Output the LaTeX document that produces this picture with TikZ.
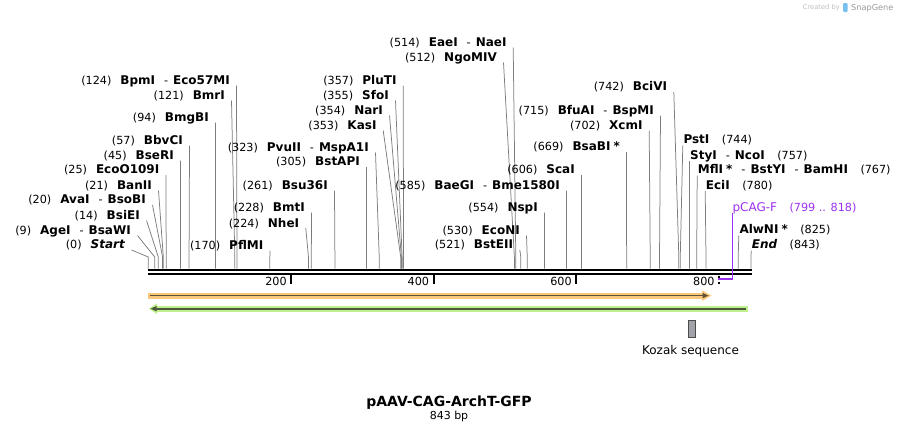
\documentclass[tikz,border=0pt]{standalone}
\usepackage{fontspec}
\setmainfont{DejaVu Sans}
\usepackage{tikz}
\usetikzlibrary{calc}
\usetikzlibrary{positioning}

\definecolor{leadgray}{RGB}{125,125,125}
\definecolor{cagorange}{RGB}{250,200,122}
\definecolor{cagline}{RGB}{95,80,55}
\definecolor{gfpgreen}{RGB}{192,240,140}
\definecolor{gfpline}{RGB}{75,90,60}
\definecolor{primpurple}{RGB}{155,48,240}
\definecolor{kozakgray}{RGB}{160,164,170}
\definecolor{logoblue}{RGB}{120,192,238}

\newcommand{\bpnum}[1]{{\fontsize{11.2}{13}\selectfont(#1)}}
\newcommand{\enz}[1]{{\fontsize{12}{14}\selectfont\bfseries #1}}
\newcommand{\enzsep}{\hspace{9pt}{\fontsize{11.2}{13}\selectfont-}\hspace{5pt}}
\newcommand{\lft}[2]{\bpnum{#1}\hspace{9pt}#2}
\newcommand{\rgt}[2]{#2\hspace{12.5pt}\bpnum{#1}}

\begin{document}
\begin{tikzpicture}[x=1pt,y=-1pt,
    leader/.style={draw=leadgray,line width=0.75pt},
    lab/.style={inner sep=0pt,anchor=base east},
    rlab/.style={inner sep=0pt,anchor=base west},
    ticklab/.style={inner sep=0pt,anchor=base east,font=\fontsize{11.2}{13}\selectfont}]

  \useasboundingbox (0,0) rectangle (900,432);

  % backbone
  \draw[line width=2.4pt] (148.3,269.9) -- (751.5,269.9);
  \draw[line width=2.4pt] (148.3,274) -- (751.5,274);

  \foreach \t/\tx in {200/291.2,400/433.6,600/576.2}{
    \draw[line width=2pt] (\tx,275) -- (\tx,283.5);
    \node[ticklab] (tick\t) at (\tx-4.3,285.8) {\t};
  }
  \draw[line width=2pt,dash pattern=on 2pt off 4pt] (719,275.5) -- (719,283.5);
  \node[ticklab] (tick800) at (714.7,285.8) {800};

  % features
  \fill[cagorange] (148.3,292.6) rectangle (703,298.6);
  \fill[cagorange] (702,290.3) -- (711.5,295.6) -- (702,300.9) -- cycle;
  \draw[cagline,line width=1.6pt] (149.5,295.6) -- (703.5,295.6);
  \fill[cagline] (702.5,292.9) -- (708.5,295.6) -- (702.5,298.3) -- cycle;

  \fill[gfpgreen] (156,305.7) rectangle (748,311.7);
  \fill[gfpgreen] (157,303.4) -- (148.8,308.7) -- (157,314) -- cycle;
  \draw[gfpline,line width=1.6pt] (155,308.7) -- (745.8,308.7);
  \fill[gfpline] (156.5,306) -- (150.5,308.7) -- (156.5,311.4) -- cycle;

  \node[draw=black!70,fill=kozakgray,line width=0.8pt,inner sep=0pt,
        minimum width=7.4pt,minimum height=16.6pt] (kozak) at (692,329) {};
  \node[anchor=base,inner sep=0pt,font=\fontsize{12}{14}\selectfont] (kozaklab)
        at (690.5,354.2) {Kozak sequence};

  % cut sites, labels left of the line
  \foreach \bp/\ex/\cy/\lbl [count=\i] in {
      124/230/80/{\enz{BpmI}\enzsep\enz{Eco57MI}},
      121/225/95/{\enz{BmrI}},
      94/209/117/{\enz{BmgBI}},
      57/183/140/{\enz{BbvCI}},
      45/174/155/{\enz{BseRI}},
      25/159.5/169.5/{\enz{EcoO109I}},
      21/152/185/{\enz{BanII}},
      20/146/199.5/{\enz{AvaI}\enzsep\enz{BsoBI}},
      14/140/215/{\enz{BsiEI}},
      9/131/230/{\enz{AgeI}\enzsep\enz{BsaWI}},
      0/125/244.5/{\enz{\itshape Start}},
      170/263.5/245/{\enz{PflMI}},
      224/299.3/222.7/{\enz{NheI}},
      228/305/207/{\enz{BmtI}},
      261/328/185/{\enz{Bsu36I}},
      305/360/161.5/{\enz{BstAPI}},
      323/369/147/{\enz{PvuII}\enzsep\enz{MspA1I}},
      353/376.7/125/{\enz{KasI}},
      354/383/110/{\enz{NarI}},
      355/389/95/{\enz{SfoI}},
      357/396.7/80/{\enz{PluTI}},
      514/506.7/42/{\enz{EaeI}\enzsep\enz{NaeI}},
      512/497/57/{\enz{NgoMIV}},
      585/560/185/{\enz{BaeGI}\enzsep\enz{Bme1580I}},
      606/575/169.5/{\enz{ScaI}},
      554/538/207/{\enz{NspI}},
      530/520/230/{\enz{EcoNI}},
      521/513.3/244.5/{\enz{BstEII}},
      742/667.3/86.5/{\enz{BciVI}},
      715/654/110/{\enz{BfuAI}\enzsep\enz{BspMI}},
      702/642.7/125/{\enz{XcmI}},
      669/620/146.5/{\enz{BsaBI\hspace{3pt}*}}}{
    \coordinate (cut\i) at ({148.3+0.715*\bp},268.5);
    \node[lab] (lab\i) at (\ex,{\cy+4.4}) {\lft{\bp}{\lbl}};
    \draw[leader] ([shift={(6.5,1.1)}]lab\i.base east) -- ($(cut\i)+(0,-11.5)$) -- (cut\i);
  }

  % cut sites, labels right of the line
  \foreach \bp/\wx/\cy/\lbl [count=\i] in {
      744/683.3/139.5/{\enz{PstI}},
      757/690/155/{\enz{StyI}\enzsep\enz{NcoI}},
      767/697.7/169.5/{\enz{MflI\hspace{3pt}*}\enzsep\enz{BstYI}\enzsep\enz{BamHI}},
      780/705.7/185/{\enz{EciI}},
      825/739.3/229.5/{\enz{AlwNI\hspace{3pt}*}},
      843/751.7/244.5/{\enz{\itshape End}}}{
    \coordinate (rcut\i) at ({148.3+0.715*\bp},268.5);
    \node[rlab] (rlab\i) at (\wx,{\cy+4.4}) {\rgt{\bp}{\lbl}};
    \draw[leader] ([shift={(-0.5,1.6)}]rlab\i.base west) -- ($(rcut\i)+(0,-11.5)$) -- (rcut\i);
  }

  % primer
  \node[rlab,text=primpurple] (pcagf) at (732.3,211.1)
        {{\fontsize{12}{14}\selectfont pCAG-F}\hspace{12.5pt}\bpnum{799 .. 818}};
  \coordinate (p799) at (718.3,279);
  \draw[primpurple,line width=1.5pt] ([shift={(0,2)}]pcagf.base west) |- (p799);

  \node[anchor=base,inner sep=0pt,font=\fontsize{14}{16}\selectfont\bfseries] (title)
        at (449,406.8) {pAAV-CAG-ArchT-GFP};
  \node[anchor=base,inner sep=0pt,font=\fontsize{11}{13}\selectfont] (size)
        at (449,419) {843 bp};

  \node[anchor=base east,inner sep=0pt,text=black!25,font=\fontsize{6.7}{8}\selectfont]
        (created) at (840,9.5) {Created by};
  \fill[logoblue,rounded corners=1pt] (843,3) rectangle (847.5,12);
  \node[anchor=base west,inner sep=0pt,text=black!40,font=\fontsize{8.2}{10}\selectfont]
        (snapgene) at (851,10.5) {SnapGene};
\end{tikzpicture}
\end{document}
